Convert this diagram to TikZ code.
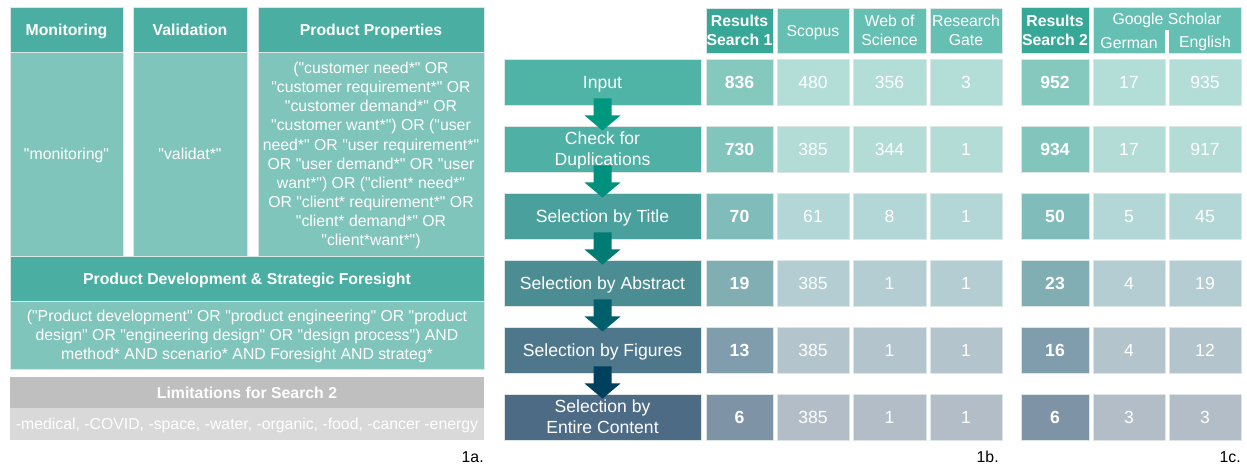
\documentclass[tikz,border=0pt]{standalone}
\usepackage{fontspec}
\setmainfont{Liberation Sans}[Ligatures=TeXOff]
\usetikzlibrary{calc}

% panel 1a
\definecolor{hdr}{HTML}{4AAFA2}
\definecolor{body}{HTML}{80C5BB}
\definecolor{limhdr}{HTML}{BFBFBF}
\definecolor{limbody}{HTML}{D9D9D9}
\definecolor{edge}{HTML}{DCE6E4}
% table headers
\definecolor{reshdr}{HTML}{37A897}
\definecolor{srchdr}{HTML}{66BFB3}
% rows: flow box, bold result, light source cells
\definecolor{flow1}{HTML}{4FB3A6}\definecolor{bold1}{HTML}{84C8BE}\definecolor{light1}{HTML}{B3DED8}
\definecolor{flow2}{HTML}{4FB1A5}\definecolor{bold2}{HTML}{82C5BC}\definecolor{light2}{HTML}{B3DCD6}
\definecolor{flow3}{HTML}{4AA09D}\definecolor{bold3}{HTML}{80BCBA}\definecolor{light3}{HTML}{B3D7D6}
\definecolor{flow4}{HTML}{4C8D94}\definecolor{bold4}{HTML}{80AEB3}\definecolor{light4}{HTML}{B3CDD2}
\definecolor{flow5}{HTML}{4E778B}\definecolor{bold5}{HTML}{7F9DAD}\definecolor{light5}{HTML}{B3C4CD}
\definecolor{flow6}{HTML}{4E6B86}\definecolor{bold6}{HTML}{7F93A7}\definecolor{light6}{HTML}{B3BDC8}
% block arrows
\definecolor{arr1}{HTML}{00977F}
\definecolor{arr2}{HTML}{00917E}
\definecolor{arr3}{HTML}{007C74}
\definecolor{arr4}{HTML}{005F6A}
\definecolor{arr5}{HTML}{00405F}

% struts that centre the capitals of the text block in its box
\newcommand\topstrut{\rule{0pt}{1em}}
\newcommand\botstrut{\rule[-0.28em]{0pt}{0.28em}}

% rectangle node from its pixel corners
\newcommand\tcell[7]{%
  \node[#6, minimum width={(#4-#2)*0.02cm}, minimum height={(#5-#3)*0.02cm}]
    (#1) at ({(#2+#4)/2},{(#3+#5)/2}) {\topstrut#7\botstrut};}

\tikzset{
  box/.style={rectangle, draw=edge, line width=0.5pt},
  hb/.style={box, font=\fontsize{9}{10.8}\selectfont\bfseries},
  tx/.style={box, font=\fontsize{9}{10.9}\selectfont},
  flowbox/.style={box, font=\fontsize{10}{12}\selectfont},
  num/.style={box, font=\fontsize{10}{12}\selectfont},
  bnum/.style={box, font=\fontsize{10}{12}\selectfont\bfseries},
  tag/.style={text=black, anchor=east, font=\fontsize{9}{10}\selectfont},
  lbl/.style={font=\fontsize{9}{10.8}\selectfont},
}

\begin{document}
\begin{tikzpicture}[x=0.02cm, y=-0.02cm,
  every node/.style={text=white, inner sep=0pt, align=center}]
\fill[white] (0,0) rectangle (1247,464);
\useasboundingbox (0,0) rectangle (1247,464);

% ---------- 1a: search terms ----------
\tcell{mon}{10}{7}{123}{52}{hb, fill=hdr}{Monitoring}
\tcell{val}{133}{7}{247}{52}{hb, fill=hdr}{Validation}
\tcell{pp}{258}{7}{484}{52}{hb, fill=hdr}{Product Properties}
\tcell{monb}{10}{52}{123}{256}{tx, fill=body}{"monitoring"}
\tcell{valb}{133}{52}{247}{256}{tx, fill=body}{"validat*"}
\tcell{ppb}{258}{52}{484}{256}{tx, fill=body}{%
("customer need*" OR\\
"customer requirement*" OR\\
"customer demand*" OR\\
"customer want*") OR ("user\\
need*" OR "user requirement*"\\
OR "user demand*" OR "user\\
want*") OR ("client* need*"\\
OR "client* requirement*" OR\\
"client* demand*" OR\\
"client*want*")}
\tcell{pd}{10}{256}{484}{301}{hb, fill=hdr}{Product Development \& Strategic Foresight}
\tcell{pdb}{10}{301}{484}{369}{tx, fill=body}{%
("Product development" OR "product engineering" OR "product\\
design" OR "engineering design" OR "design process") AND\\
method* AND scenario* AND Foresight AND strateg*}
\tcell{lim}{10}{377}{484}{408}{hb, fill=limhdr, draw=none}{Limitations for Search 2}
\tcell{limb}{10}{408}{484}{440}{tx, fill=limbody, draw=none, font=\fontsize{9}{11}\selectfont}{%
-medical, -COVID, -space, -water, -organic, -food, -cancer -energy}
\node[tag] (tga) at (484,457) {1a.};

% ---------- 1b / 1c: table headers ----------
\tcell{rs1}{706}{8}{773}{53}{hb, fill=reshdr}{Results\\Search 1}
\tcell{sco}{777}{8}{849}{53}{tx, fill=srchdr}{Scopus}
\tcell{wos}{853}{8}{926}{53}{tx, fill=srchdr}{Web of\\Science}
\tcell{rg}{930}{8}{1002}{53}{tx, fill=srchdr}{Research\\Gate}
\tcell{rs2}{1021}{7}{1089}{53}{hb, fill=reshdr}{Results\\Search 2}
\tcell{gs}{1093}{7}{1241}{53}{box, fill=srchdr}{}
\fill[white] (1165,30) rectangle (1169,54);
\node[lbl] (gst) at (1167,20) {Google Scholar};
\node[lbl] (ger) at (1129,43) {German};
\node[lbl] (eng) at (1205,43) {English};

% ---------- rows ----------
\foreach \i/\ya/\lbl/\a/\b/\c/\d/\e/\f/\g in {
  1/59/{Input}/836/480/356/3/952/17/935,
  2/126/{Check for\\Duplications}/730/385/344/1/934/17/917,
  3/193/{Selection by Title}/70/61/8/1/50/5/45,
  4/260/{Selection by Abstract}/19/385/1/1/23/4/19,
  5/327/{Selection by Figures}/13/385/1/1/16/4/12,
  6/394/{Selection by\\Entire Content}/6/385/1/1/6/3/3}{
  \pgfmathtruncatemacro\yb{\ya+46}
  \tcell{f\i}{504}{\ya}{701}{\yb}{flowbox, fill=flow\i}{\lbl}
  \tcell{ra\i}{706}{\ya}{773}{\yb}{bnum, fill=bold\i}{\a}
  \tcell{sc\i}{777}{\ya}{849}{\yb}{num, fill=light\i}{\b}
  \tcell{ws\i}{853}{\ya}{926}{\yb}{num, fill=light\i}{\c}
  \tcell{rgc\i}{930}{\ya}{1002}{\yb}{num, fill=light\i}{\d}
  \tcell{rb\i}{1021}{\ya}{1089}{\yb}{bnum, fill=bold\i}{\e}
  \tcell{ge\i}{1093}{\ya}{1165}{\yb}{num, fill=light\i}{\f}
  \tcell{en\i}{1169}{\ya}{1241}{\yb}{num, fill=light\i}{\g}
}

% ---------- block arrows between the steps ----------
\foreach \p/\q/\col in {f1/f2/arr1, f2/f3/arr2, f3/f4/arr3, f4/f5/arr4, f5/f6/arr5}{
  \fill[\col] ($(\p.south)+(-9,-7)$) -- ($(\p.south)+(9,-7)$)
    -- ($(\p.south)+(9,10)$) -- ($(\p.south)+(18,10)$)
    -- ($(\q.north)+(0,5)$)
    -- ($(\p.south)+(-18,10)$) -- ($(\p.south)+(-9,10)$) -- cycle;
}

\node[tag] (tgb) at (999,457) {1b.};
\node[tag] (tgc) at (1241,457) {1c.};
\end{tikzpicture}
\end{document}
